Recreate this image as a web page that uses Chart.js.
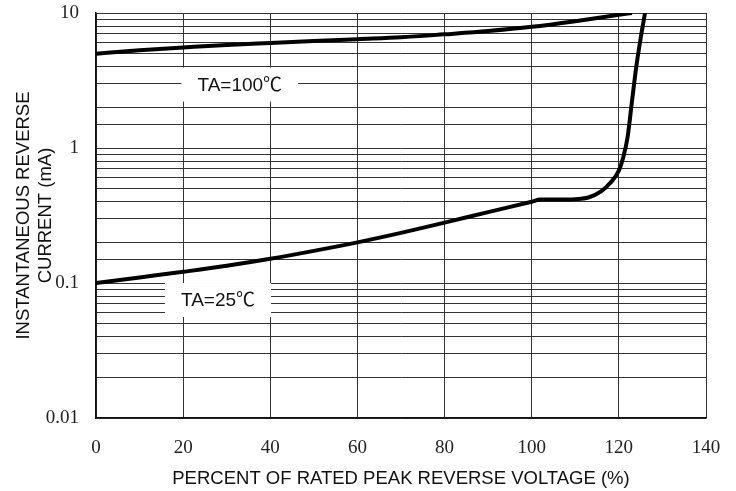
<!DOCTYPE html>
<html>
<head>
<meta charset="utf-8">
<script src="https://cdn.jsdelivr.net/npm/chart.js@4/dist/chart.umd.min.js"></script>
<style>
  html, body { margin: 0; padding: 0; background: #fff; }
  canvas { display: block; }
</style>
</head>
<body>
<canvas id="irChart" width="736" height="491"></canvas>
<script>
// percent of rated peak reverse voltage
const x100 = [0, 10, 20, 30, 40, 50, 60, 70, 80, 90, 100, 110, 120, 123];
// reverse current (mA) at TA=100
const y100 = [5.0, 5.3, 5.55, 5.8, 6.0, 6.2, 6.4, 6.6, 6.95, 7.35, 7.9, 8.7, 9.7, 10];

const x25 = [0, 10, 20, 30, 40, 50, 60, 70, 80, 90, 100, 102, 106, 110, 113, 116, 118, 120, 121, 122, 123, 124, 125, 126];
const y25 = [0.1, 0.11, 0.121, 0.134, 0.151, 0.173, 0.2, 0.235, 0.28, 0.335, 0.4, 0.415, 0.415, 0.418, 0.43, 0.48, 0.55, 0.68, 0.85, 1.2, 2.2, 4.0, 6.5, 10];

const xTicks = [0, 20, 40, 60, 80, 100, 120, 140];
const yDecades = [0.01, 0.1, 1, 10];

const curveLabels = [
  { text: 'TA=100\u2103', x: 33, y: 2.95 },
  { text: 'TA=25\u2103', x: 28, y: 0.0748 }
];

function toPoints(xs, ys) {
  return xs.map(function(v, i) { return { x: v, y: ys[i] }; });
}

const labelBoxes = {
  id: 'labelBoxes',
  beforeDatasetsDraw: function(chart) {
    const ctx = chart.ctx;
    const xs = chart.scales.x, ys = chart.scales.y;
    ctx.save();
    ctx.font = '19px "Liberation Sans", Arial, "Noto Sans CJK SC", sans-serif';
    ctx.textAlign = 'center';
    ctx.textBaseline = 'middle';
    curveLabels.forEach(function(l) {
      const cx = xs.getPixelForValue(l.x);
      const cy = ys.getPixelForValue(l.y);
      const w = ctx.measureText(l.text).width + 32;
      const h = 34;
      ctx.fillStyle = '#fff';
      ctx.fillRect(cx - w / 2, cy - h / 2, w, h);
      ctx.fillStyle = '#111';
      ctx.fillText(l.text, cx, cy + 1);
    });
    ctx.restore();
  }
};

new Chart(document.getElementById('irChart'), {
  type: 'line',
  data: {
    datasets: [
      {
        label: 'TA=100',
        data: toPoints(x100, y100),
        borderColor: '#000',
        borderWidth: 4,
        pointRadius: 0,
        cubicInterpolationMode: 'monotone',
        fill: false
      },
      {
        label: 'TA=25',
        data: toPoints(x25, y25),
        borderColor: '#000',
        borderWidth: 4,
        pointRadius: 0,
        cubicInterpolationMode: 'monotone',
        fill: false
      }
    ]
  },
  options: {
    responsive: false,
    animation: false,
    layout: { padding: { top: 13, right: 30, left: 0, bottom: 0 } },
    plugins: {
      legend: { display: false },
      tooltip: { enabled: false }
    },
    scales: {
      x: {
        type: 'linear',
        min: 0,
        max: 140,
        afterFit: function(scale) {
          scale.height = 73;
          scale.paddingLeft = 0;
          scale.paddingRight = 0;
        },
        afterBuildTicks: function(scale) {
          scale.ticks = xTicks.map(function(v) { return { value: v }; });
        },
        grid: { color: '#333', lineWidth: 1, drawTicks: false },
        border: { color: '#111', width: 1.5 },
        ticks: {
          padding: 19,
          color: '#222',
          font: { family: '"Liberation Serif", "Times New Roman", serif', size: 19 }
        },
        title: {
          display: true,
          text: 'PERCENT OF RATED PEAK REVERSE VOLTAGE (%)',
          color: '#111',
          padding: { top: 0, bottom: 1 },
          font: { family: '"Liberation Sans", Arial, sans-serif', size: 18.5 }
        }
      },
      y: {
        type: 'logarithmic',
        min: 0.01,
        max: 10,
        afterFit: function(scale) {
          scale.width = 96;
          scale.paddingTop = 0;
          scale.paddingBottom = 0;
        },
        grid: { color: '#333', lineWidth: 1, drawTicks: false },
        border: { color: '#111', width: 1.5 },
        ticks: {
          autoSkip: false,
          padding: 17,
          color: '#222',
          font: { family: '"Liberation Serif", "Times New Roman", serif', size: 19 },
          callback: function(v) {
            return yDecades.some(function(d) { return Math.abs(d - v) < d * 1e-6; }) ? String(v) : '';
          }
        },
        title: {
          display: true,
          text: ['INSTANTANEOUS REVERSE', 'CURRENT (mA)'],
          color: '#111',
          padding: { top: 13, bottom: 0 },
          font: { family: '"Liberation Sans", Arial, sans-serif', size: 18.5 }
        }
      }
    }
  },
  plugins: [labelBoxes]
});
</script>
</body>
</html>
